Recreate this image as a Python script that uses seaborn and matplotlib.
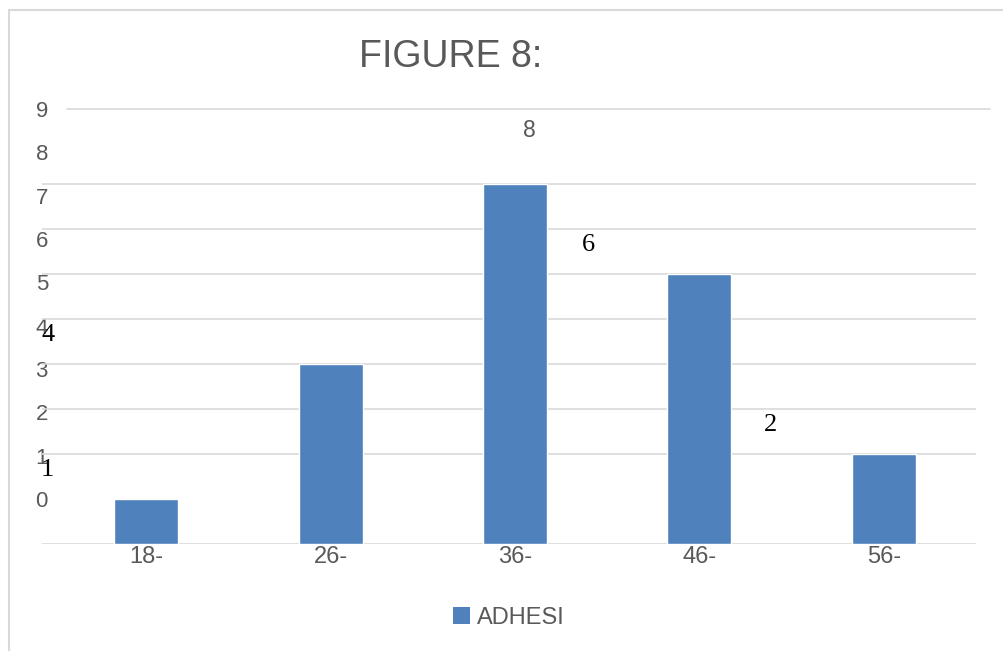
import numpy as np
import matplotlib
matplotlib.use("Agg")
import matplotlib.pyplot as plt
from matplotlib.lines import Line2D
from matplotlib.patches import Patch
from matplotlib.ticker import FixedLocator
import matplotlib.transforms as mtransforms
import seaborn as sns

# Age groups and counts
age_groups = ["18-", "26-", "36-", "46-", "56-"]
adhesi = [1, 4, 8, 6, 2]
y_tick_labels = ["0", "1", "2", "3", "4", "5", "6", "7", "8", "9"]
series_name = "ADHESI"
title_text = "FIGURE 8:"

# Value labels: horizontal placement (axes fraction) and style per bar
label_x = [0.006, 0.006, 0.522, 0.585, 0.780]
label_dy = [21, 21, 38.5, 21, 21]
label_serif = [True, True, False, True, True]

BAR = "#4F81BD"
GREY = "#595959"
GRID = "#D9D9D9"

sns.set_style("white")
plt.rcParams["font.family"] = ["Liberation Sans", "DejaVu Sans"]

fig = plt.figure(figsize=(10.04, 6.51), dpi=100)
W, H = 1004, 651
ax = fig.add_axes([42 / W, 1 - 544 / H, (976 - 42) / W, (544 - 109) / H])

sns.barplot(x=age_groups, y=adhesi, color=BAR, width=0.347, ax=ax,
            saturation=1, zorder=3)

ymax = 9.67
ax.set_ylim(0, ymax)
ax.set_xlim(-0.564, 4.499)
ax.set_xlabel("")
ax.set_ylabel("")

# Gridlines on the integer values; printed tick labels on their own spacing
ax.yaxis.set_minor_locator(FixedLocator(np.arange(0, 9)))
ax.grid(which="minor", axis="y", color=GRID, linewidth=1.2, zorder=0)
ax.grid(which="major", visible=False)
ax.set_yticks(np.linspace(1, ymax, len(y_tick_labels)))
ax.set_yticklabels(y_tick_labels)
ax.tick_params(axis="y", which="both", length=0, pad=-4.3,
               labelsize=16, labelcolor=GREY)
ax.tick_params(axis="x", length=0, pad=1.5, labelsize=17, labelcolor=GREY)
for s in ax.spines.values():
    s.set_visible(False)

# Value labels
trans = mtransforms.blended_transform_factory(ax.transAxes, ax.transData)
for v, xf, dy, serif in zip(adhesi, label_x, label_dy, label_serif):
    if serif:
        kw = dict(family=["Liberation Serif"], color="black", fontsize=19)
    else:
        kw = dict(family=["Liberation Sans"], color=GREY, fontsize=16.5)
    ax.annotate(str(v), xy=(xf, v), xycoords=trans, xytext=(0, dy),
                textcoords="offset points", ha="center", va="center",
                annotation_clip=False, **kw)

# Plot-area top line and chart frame
fig.add_artist(Line2D([67 / W, 990 / W], [1 - 109 / H] * 2, color=GRID,
                      linewidth=1.2, transform=fig.transFigure))
fig.add_artist(Line2D([9 / W, 9 / W], [0, 1 - 10 / H], color=GRID,
                      linewidth=1.5, transform=fig.transFigure))
fig.add_artist(Line2D([9 / W, 1], [1 - 10 / H] * 2, color=GRID,
                      linewidth=1.5, transform=fig.transFigure))

fig.text(451 / W, 1 - 57 / H, title_text, ha="center", va="center",
         fontsize=27, color=GREY)

handles = [Patch(facecolor=BAR, edgecolor="none", label=series_name)]
fig.legend(handles=handles, loc="center", bbox_to_anchor=(509 / W, 1 - 618 / H),
           frameon=False, fontsize=17, labelcolor=GREY, handlelength=0.7,
           handleheight=0.7, handletextpad=0.3)

fig.savefig("out.png", dpi=100, facecolor="white")
